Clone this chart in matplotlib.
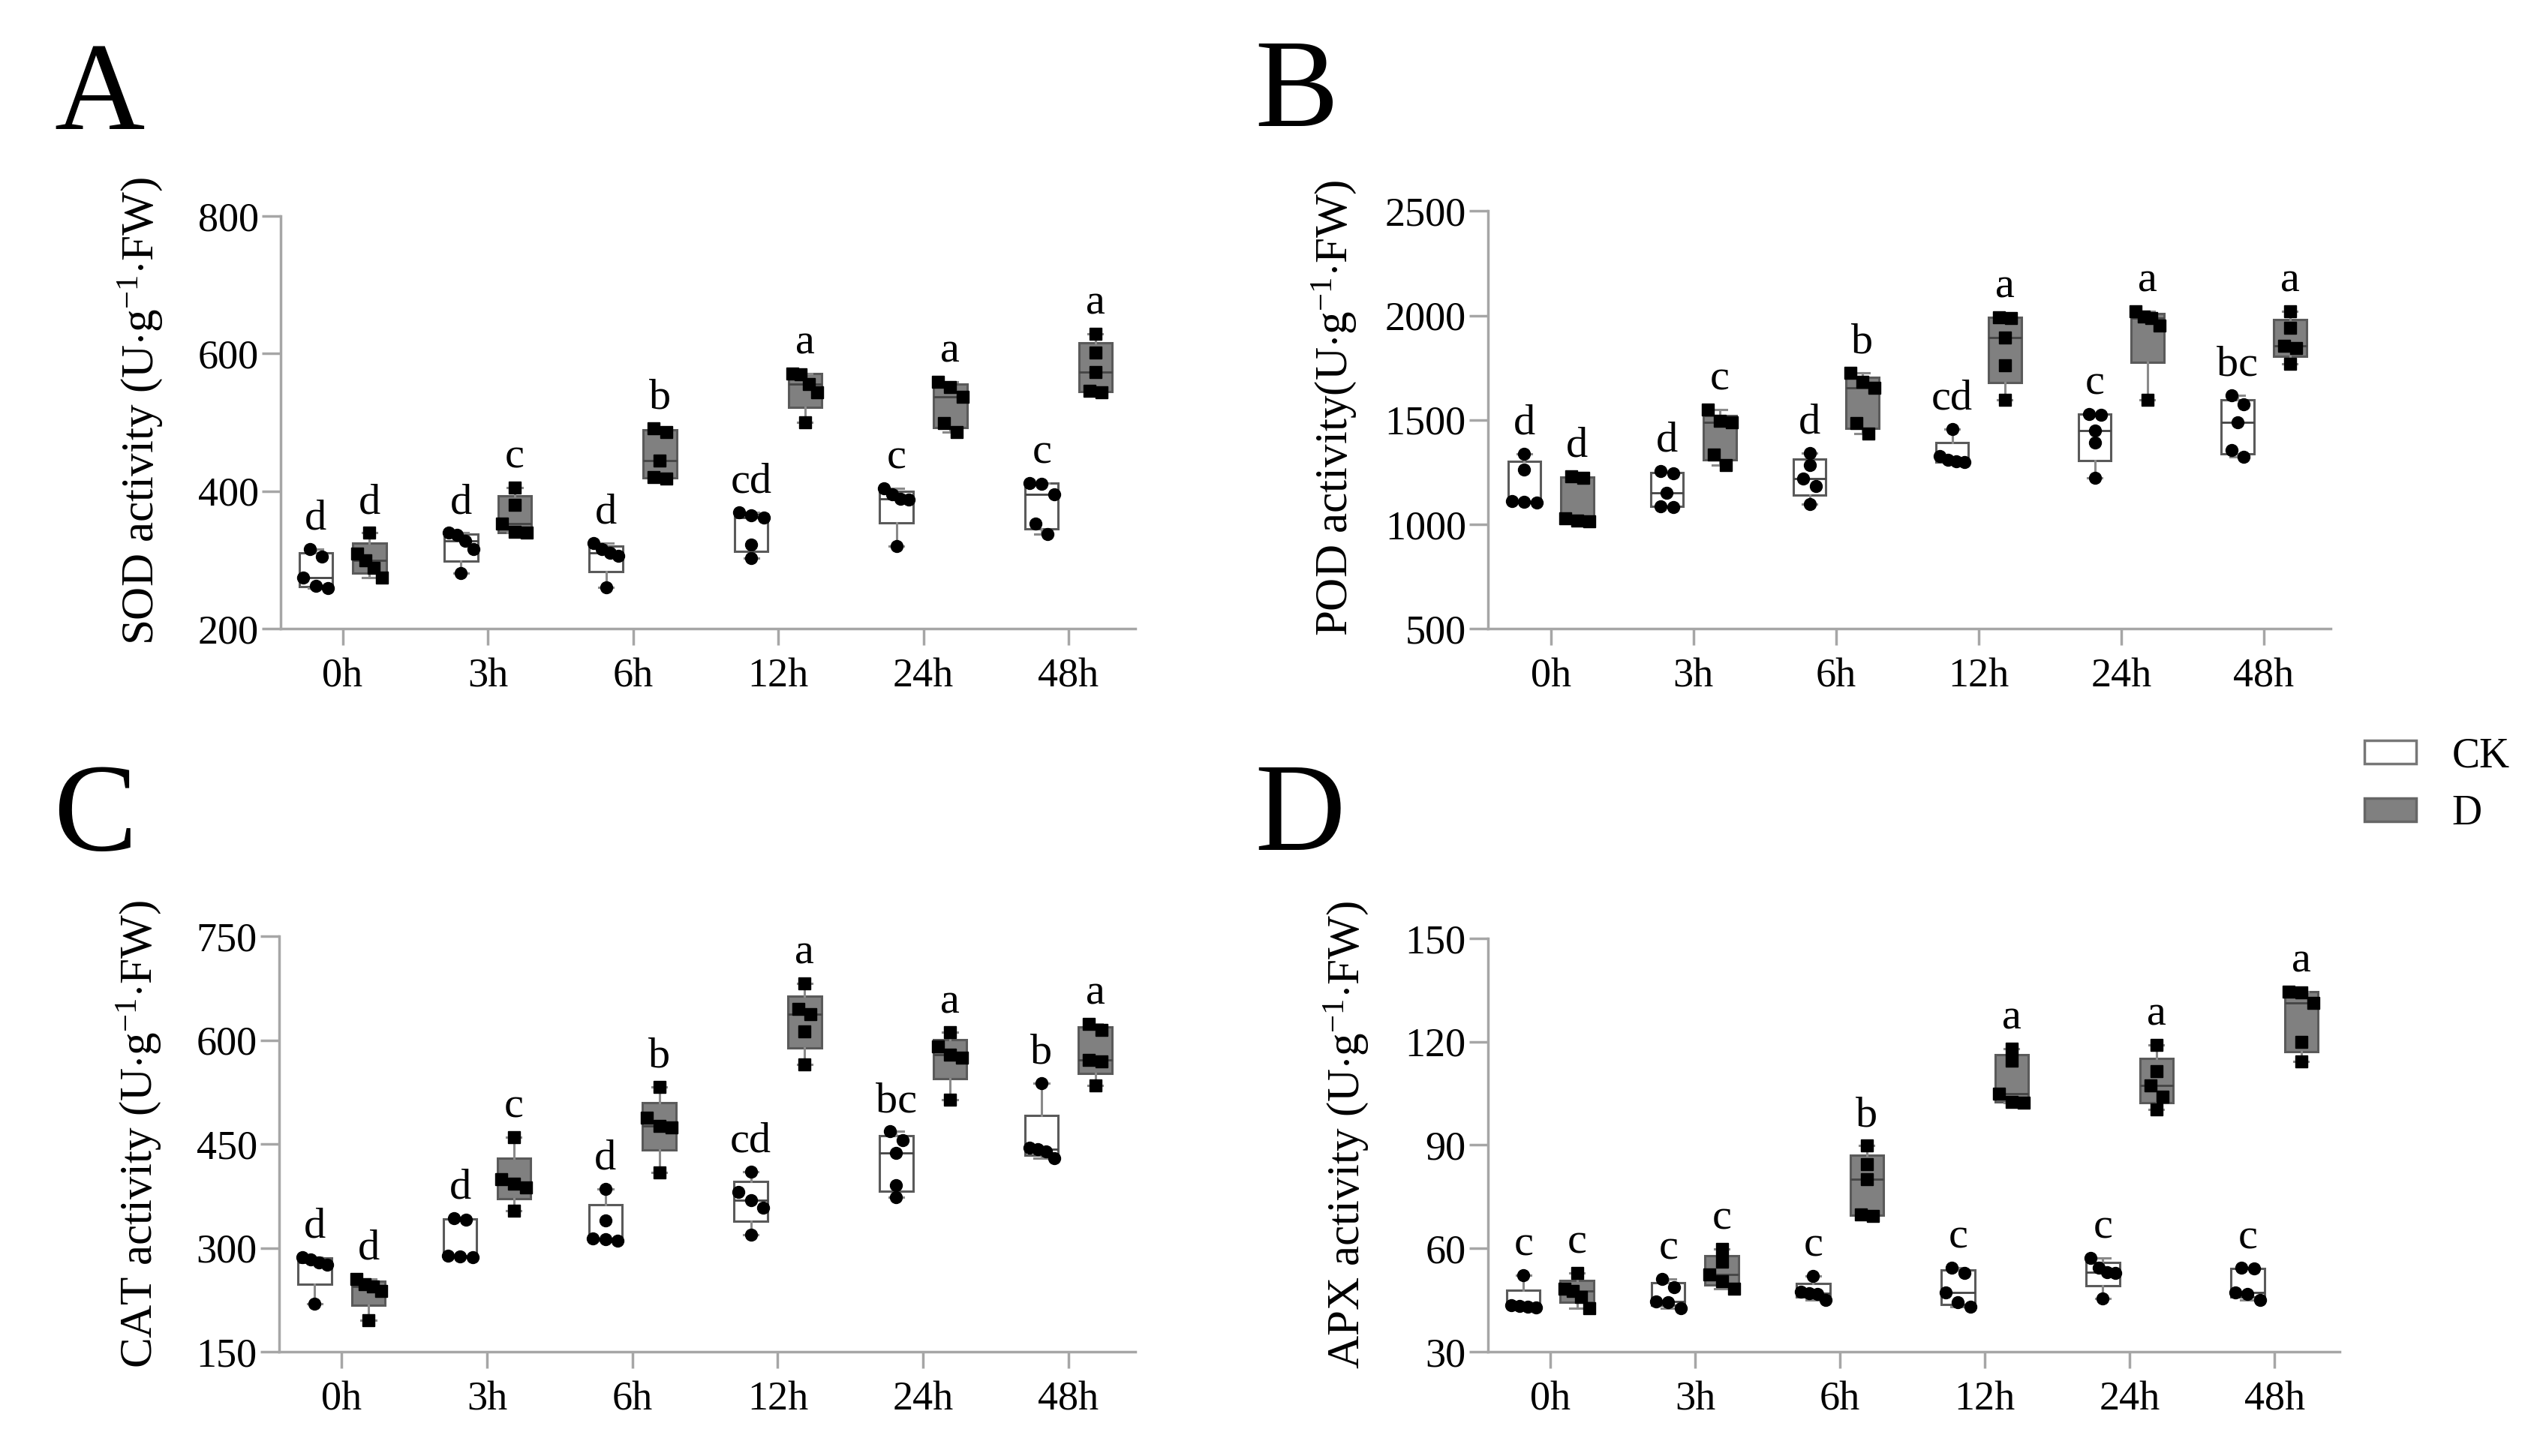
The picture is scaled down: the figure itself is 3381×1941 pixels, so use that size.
import numpy as np
import matplotlib
matplotlib.use('Agg')
import matplotlib.pyplot as plt
from matplotlib import cbook
from matplotlib.patches import Patch

plt.rcParams['font.family'] = ['Liberation Serif', 'DejaVu Serif']
plt.rcParams['mathtext.fontset'] = 'custom'
plt.rcParams['mathtext.rm'] = 'Liberation Serif'
plt.rcParams['mathtext.it'] = 'Liberation Serif:italic'
plt.rcParams['mathtext.bf'] = 'Liberation Serif:bold'

# ---------------- data ----------------
time_labels = ['0h', '3h', '6h', '12h', '24h', '48h']
groups = ['CK', 'D']

sod_ck = [[316, 305, 274, 259, 262], [328, 336, 339, 316, 281], [316, 306, 310, 324, 260],
          [369, 361, 365, 322, 302], [404, 395, 389, 387, 320], [412, 410, 395, 353, 337]]
sod_d = [[339, 309, 299, 288, 274], [405, 380, 353, 339, 341], [491, 486, 444, 420, 418],
         [571, 570, 555, 543, 500], [559, 551, 537, 499, 486], [629, 601, 573, 546, 544]]
sod_let_ck = ['d', 'd', 'd', 'cd', 'c', 'c']
sod_let_d = ['d', 'c', 'b', 'a', 'a', 'a']

pod_ck = [[1338, 1262, 1102, 1112, 1106], [1255, 1242, 1152, 1087, 1083], [1342, 1285, 1218, 1182, 1096],
          [1455, 1309, 1328, 1300, 1296], [1528, 1524, 1448, 1391, 1222], [1617, 1574, 1488, 1355, 1322]]
pod_d = [[1231, 1222, 1016, 1027, 1012], [1548, 1495, 1488, 1335, 1282], [1727, 1681, 1654, 1484, 1435],
         [1993, 1987, 1896, 1761, 1597], [2020, 1996, 1987, 1953, 1597], [2020, 1940, 1854, 1843, 1767]]
pod_let_ck = ['d', 'd', 'd', 'cd', 'c', 'bc']
pod_let_d = ['d', 'c', 'b', 'a', 'a', 'a']

cat_ck = [[287, 283, 279, 276, 219], [343, 341, 289, 288, 287], [385, 340, 310, 314, 312],
          [410, 381, 369, 358, 319], [468, 456, 437, 390, 373], [538, 445, 439, 443, 429]]
cat_d = [[255, 248, 244, 238, 196], [460, 399, 387, 393, 354], [532, 488, 476, 474, 409],
         [682, 645, 637, 613, 565], [611, 591, 575, 579, 514], [623, 615, 569, 571, 534]]
cat_let_ck = ['d', 'd', 'd', 'cd', 'bc', 'b']
cat_let_d = ['d', 'c', 'b', 'a', 'a', 'a']

apx_ck = [[52.3, 43.5, 43.0, 42.8, 43.2], [51.2, 48.8, 44.3, 44.5, 42.7], [52.0, 47.5, 47.0, 46.8, 45.1],
          [54.5, 52.8, 47.2, 44.3, 43.1], [57.3, 54.5, 52.8, 53.0, 45.5], [54.1, 54.3, 47.2, 46.7, 45.1]]
apx_d = [[52.8, 48.4, 47.6, 45.9, 42.7], [59.8, 56.1, 52.4, 50.4, 48.4], [89.8, 84.5, 80.1, 69.5, 69.9],
         [117.9, 114.6, 104.9, 102.4, 102.6], [119.1, 111.4, 107.3, 104.1, 100.4], [134.6, 134.3, 131.3, 119.9, 114.2]]
apx_let_ck = ['c', 'c', 'c', 'c', 'c', 'c']
apx_let_d = ['c', 'c', 'b', 'a', 'a', 'a']

# ---------------- figure ----------------
W, H = 3381, 1941
fig = plt.figure(figsize=(W / 100, H / 100), dpi=100)

panels = [
    dict(tag='A', rect=[0.1106, 0.5683, 0.3369, 0.2834], ck=sod_ck, d=sod_d, lck=sod_let_ck, ld=sod_let_d,
         ylim=(200, 800), yticks=[200, 400, 600, 800], xlim=(-0.427, 5.46),
         ylabel=r'SOD activity (U$\cdot$g$^{-1}$$\cdot$FW)', ylab=(-0.136, 0.527), tagpos=(72, 172)),
    dict(tag='B', rect=[0.5865, 0.5683, 0.3322, 0.2867], ck=pod_ck, d=pod_d, lck=pod_let_ck, ld=pod_let_d,
         ylim=(500, 2500), yticks=[500, 1000, 1500, 2000, 2500], xlim=(-0.44, 5.47),
         ylabel=r'POD activity(U$\cdot$g$^{-1}$$\cdot$FW)', ylab=(-0.154, 0.528), tagpos=(1672, 168)),
    dict(tag='C', rect=[0.1100, 0.0716, 0.3375, 0.2854], ck=cat_ck, d=cat_d, lck=cat_let_ck, ld=cat_let_d,
         ylim=(150, 750), yticks=[150, 300, 450, 600, 750], xlim=(-0.43, 5.46),
         ylabel=r'CAT activity (U$\cdot$g$^{-1}$$\cdot$FW)', ylab=(-0.136, 0.523), tagpos=(71, 1133)),
    dict(tag='D', rect=[0.5865, 0.0716, 0.3357, 0.2839], ck=apx_ck, d=apx_d, lck=apx_let_ck, ld=apx_let_d,
         ylim=(30, 150), yticks=[30, 60, 90, 120, 150], xlim=(-0.43, 5.45),
         ylabel=r'APX activity (U$\cdot$g$^{-1}$$\cdot$FW)', ylab=(-0.138, 0.524), tagpos=(1672, 1133)),
]

AX_COLOR = '#a6a6a6'
OFF = 0.185
BW = 0.23
CK_FACE, D_FACE = 'white', '#808080'
EDGE = '#5a5a5a'


def spread(vals, tol):
    vals = np.asarray(vals, float)
    order = np.argsort(vals)[::-1]
    offs = np.zeros(len(vals))
    clusters = []
    for i in order:
        if clusters and abs(vals[clusters[-1][-1]] - vals[i]) < tol:
            clusters[-1].append(i)
        else:
            clusters.append([i])
    for c in clusters:
        n = len(c)
        if n == 1:
            continue
        step = min(0.085, 0.17 / (n - 1))
        for k, i in enumerate(c):
            offs[i] = (k - (n - 1) / 2) * step
    return offs


def draw_box(ax, data, pos, face, marker, tol):
    st = cbook.boxplot_stats([data], whis=(0, 100))
    q1, med, q3 = np.percentile(data, [25, 50, 75], method='weibull')
    st[0]['q1'], st[0]['med'], st[0]['q3'] = q1, med, q3
    ax.bxp(st, positions=[pos], widths=BW, showfliers=False, patch_artist=True,
           boxprops=dict(facecolor=face, edgecolor=EDGE, linewidth=2.2),
           medianprops=dict(color='#444444', linewidth=2.0),
           whiskerprops=dict(color='#8a8a8a', linewidth=2.2),
           capprops=dict(color='#8a8a8a', linewidth=2.2),
           capwidths=0.1, manage_ticks=False, zorder=2)
    offs = spread(data, tol)
    ax.plot(pos + offs, data, linestyle='none', marker=marker, color='black',
            markersize=12 if marker == 's' else 11.5, zorder=3)


for p in panels:
    ax = fig.add_axes(p['rect'])
    ymin, ymax = p['ylim']
    tol = (ymax - ymin) * 15 / 550
    x = np.arange(len(time_labels))
    for i in range(len(time_labels)):
        draw_box(ax, p['ck'][i], x[i] - OFF, CK_FACE, 'o', tol)
        draw_box(ax, p['d'][i], x[i] + OFF, D_FACE, 's', tol)
        ax.annotate(p['lck'][i], (x[i] - OFF, max(p['ck'][i])), xytext=(0, 19), textcoords='offset points',
                    ha='center', va='baseline', fontsize=42)
        ax.annotate(p['ld'][i], (x[i] + OFF, max(p['d'][i])), xytext=(0, 19), textcoords='offset points',
                    ha='center', va='baseline', fontsize=42)
    ax.set_xlim(*p['xlim'])
    ax.set_ylim(ymin, ymax)
    ax.set_yticks(p['yticks'])
    ax.set_xticks(x)
    ax.set_xticklabels(time_labels)
    for s in ['top', 'right']:
        ax.spines[s].set_visible(False)
    for s in ['left', 'bottom']:
        ax.spines[s].set_color(AX_COLOR)
        ax.spines[s].set_linewidth(2.5)
    ax.tick_params(axis='both', colors=AX_COLOR, labelcolor='black', width=2.5, labelsize=39)
    ax.tick_params(axis='x', length=16, pad=12)
    ax.tick_params(axis='y', length=18, pad=3)
    ax.set_ylabel(p['ylabel'], fontsize=44)
    ax.yaxis.set_label_coords(*p['ylab'])
    ax.patch.set_alpha(0)
    fig.text(p['tagpos'][0] / W, 1 - p['tagpos'][1] / H, p['tag'], fontsize=120,
             ha='left', va='baseline')

handles = [Patch(facecolor=CK_FACE, edgecolor='#777777', linewidth=2.5),
           Patch(facecolor=D_FACE, edgecolor='#666666', linewidth=2.5)]
fig.legend(handles, groups, loc='upper left', bbox_to_anchor=(3151 / W, 1 - 982 / H),
           frameon=False, fontsize=40, handlelength=1.24, handleheight=0.49,
           handletextpad=0.86, labelspacing=0.45, borderpad=0, borderaxespad=0)

fig.savefig('out.png', dpi=100)
